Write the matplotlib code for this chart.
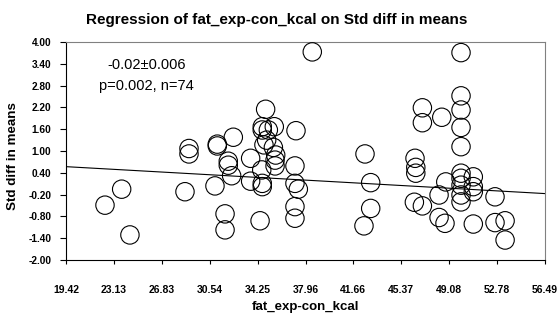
import matplotlib
matplotlib.use("Agg")
import matplotlib.pyplot as plt
import numpy as np

# data
fat_kcal = [22.44, 23.73, 24.37, 28.63, 28.94, 28.94, 30.95, 31.13, 31.13,
            31.73, 31.73, 31.98, 31.98, 32.24, 32.37, 33.71, 33.71, 34.44,
            34.57, 34.61, 34.61, 34.61, 34.61, 34.74, 34.87, 34.95, 35.08,
            35.54, 35.47, 35.65, 35.60, 35.60, 37.14, 37.22, 37.14, 37.40,
            37.14, 37.14, 38.48,
            42.56, 43.0, 43.0, 42.48, 46.43, 46.49, 46.49, 46.38, 47.0,
            47.0, 47.0, 48.5, 48.29, 48.29, 48.75, 48.81, 49.99, 49.99,
            49.99, 49.99, 49.99, 49.99, 49.99, 49.99, 49.99, 49.99, 50.94,
            50.94, 50.94, 50.94, 52.62, 52.62, 53.40, 53.40]
std_diff = [-0.49, -0.05, -1.31, -0.12, 1.07, 0.92, 0.04, 1.19, 1.14,
            -0.73, -1.17, 0.72, 0.61, 0.32, 1.38, 0.80, 0.17, -0.92,
            0.48, 1.67, 1.58, 0.11, 0.02, 1.17, 2.15, 1.30, 1.58,
            1.67, 1.10, 0.89, 0.59, 0.75, 0.59, 1.56, 0.11, -0.05,
            -0.53, -0.85, 3.73,
            0.92, 0.13, -0.58, -1.06, 0.80, 0.55, 0.39, -0.41, -0.51,
            2.19, 1.78, 1.93, -0.21, -0.83, -0.99, 0.15, 3.71, 2.52,
            2.13, 1.65, 1.12, 0.39, 0.25, 0.06, -0.21, -0.40, 0.29,
            0.02, -0.12, -1.01, -0.26, -0.97, -0.92, -1.45]

x_ticks = [19.42, 23.13, 26.83, 30.54, 34.25, 37.96, 41.66, 45.37, 49.08, 52.78, 56.49]
y_ticks = [-2.00, -1.40, -0.80, -0.20, 0.40, 1.00, 1.60, 2.20, 2.80, 3.40, 4.00]

# regression line
intercept = 0.57
slope = -0.02

plt.rcParams['font.family'] = ['Liberation Sans', 'DejaVu Sans']

fig = plt.figure(figsize=(5.59, 3.2), dpi=100)
ax = fig.add_axes([0.118, 0.1875, 0.857, 0.681])

ax.scatter(fat_kcal, std_diff, s=175, facecolors='none', edgecolors='black',
           linewidths=0.8, zorder=3)

xl = np.array([x_ticks[0], x_ticks[-1]])
ax.plot(xl, intercept + slope * (xl - x_ticks[0]), color='black', lw=0.8)

ax.set_xlim(x_ticks[0], x_ticks[-1])
ax.set_ylim(y_ticks[0], y_ticks[-1])
ax.set_xticks(x_ticks)
ax.set_xticklabels(["%.2f" % v for v in x_ticks], fontsize=7.5, fontweight='bold')
ax.set_yticks(y_ticks)
ax.set_yticklabels(["%.2f" % v for v in y_ticks], fontsize=7.3, fontweight='bold')
ax.tick_params(axis='y', length=4, width=0.8, pad=6.5)
ax.tick_params(axis='x', length=3, width=0.8, pad=15)

ax.spines['top'].set_color('#808080')
ax.spines['right'].set_color('#808080')

ax.set_xlabel("fat_exp-con_kcal", fontsize=9.5, fontweight='bold', labelpad=4)
ax.set_ylabel("Std diff in means", fontsize=9.6, fontweight='bold')
ax.yaxis.set_label_coords(-0.098, 0.477)
fig.text(0.495, 0.9375, "Regression of fat_exp-con_kcal on Std diff in means",
         fontsize=11, fontweight='bold', ha='center', va='center')

ax.text(0.169, 0.894, "-0.02\u00b10.006", transform=ax.transAxes,
        ha='center', va='center', fontsize=10.5)
ax.text(0.168, 0.798, "p=0.002, n=74", transform=ax.transAxes,
        ha='center', va='center', fontsize=10.5)

fig.savefig("out.png", dpi=100)
